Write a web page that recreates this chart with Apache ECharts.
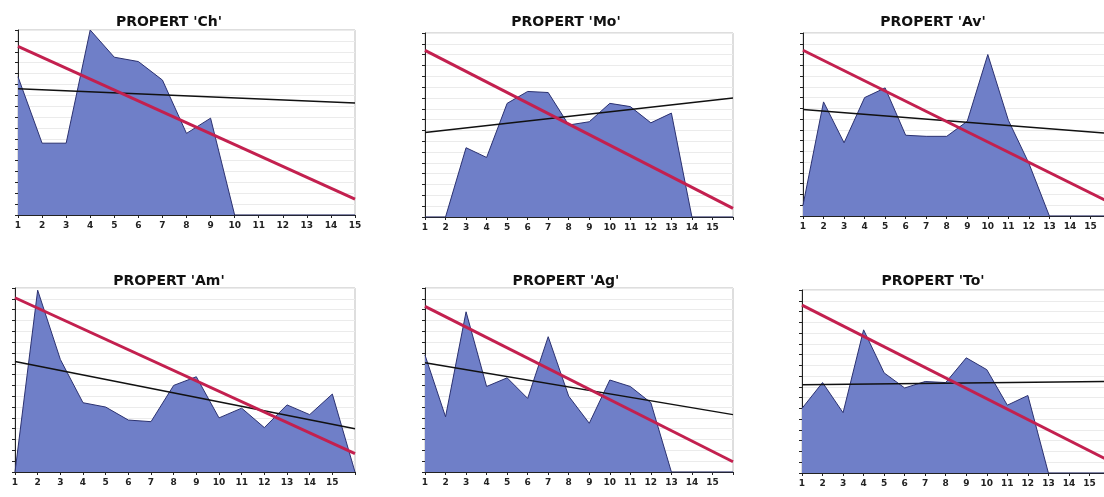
<!DOCTYPE html>
<html>
<head>
<meta charset="utf-8">
<script src="https://cdn.jsdelivr.net/npm/echarts@6/dist/echarts.min.js"></script>
<style>
  html, body { margin: 0; padding: 0; background: #fff; }
  #main { width: 1104px; height: 497px; }
</style>
</head>
<body>
<div id="main"></div>
<script>
// category labels (the 16th slot has no label)
var cats15 = ['1','2','3','4','5','6','7','8','9','10','11','12','13','14','15'];
var cats16 = ['1','2','3','4','5','6','7','8','9','10','11','12','13','14','15',''];

var titles = ["PROPERT 'Ch'", "PROPERT 'Mo'", "PROPERT 'Av'", "PROPERT 'Am'", "PROPERT 'Ag'", "PROPERT 'To'"];

// area values (arbitrary units, 0..17)
var ch = [12.7, 6.6, 6.6, 17.0, 14.5, 14.1, 12.4, 7.5, 8.9, 0, 0, 0, 0, 0, 0];
var mo = [0, 0, 6.4, 5.5, 10.5, 11.6, 11.5, 8.5, 8.8, 10.5, 10.2, 8.7, 9.6, 0, 0, 0];
var av = [1.0, 10.6, 6.8, 11.0, 11.9, 7.5, 7.4, 7.4, 8.8, 15.0, 8.9, 4.9, 0, 0, 0, 0];
var am = [0, 16.8, 10.4, 6.4, 6.0, 4.8, 4.65, 8.0, 8.8, 5.0, 5.9, 4.1, 6.2, 5.3, 7.2, 0];
var ag = [10.8, 5.1, 14.8, 7.9, 8.7, 6.8, 12.5, 7.0, 4.5, 8.5, 7.9, 6.4, 0, 0, 0, 0];
var to = [6.0, 8.4, 5.6, 13.3, 9.3, 7.9, 8.5, 8.4, 10.7, 9.6, 6.3, 7.2, 0, 0, 0, 0];

// trend lines: value at first and last category
var redStart = [15.5, 15.4, 15.4, 16.1, 15.3, 15.6];
var redEnd   = [1.45, 0.8, 1.2, 1.7, 0.95, 1.1];
var blkStart = [11.6, 7.8, 9.9, 10.2, 10.1, 8.2];
var blkEnd   = [10.3, 11.0, 7.65, 4.0, 5.3, 8.5];

var areas = [ch, mo, av, am, ag, to];
var catSets = [cats15, cats16, cats16, cats16, cats16, cats16];

// plot boxes in pixels (right column runs past the window edge)
var grids = [
  {left: 18, top: 30, width: 337, height: 185},
  {left: 425, top: 33, width: 308, height: 184},
  {left: 803, top: 33, width: 308, height: 183},
  {left: 15, top: 288, width: 340, height: 184},
  {left: 425, top: 288, width: 308, height: 184},
  {left: 802, top: 290, width: 308, height: 183}
];
var titleX = [164, 561, 928, 164, 561, 928];
var titleY = [10, 10, 10, 269, 269, 269];

var option = {
  animation: false,
  title: [],
  grid: [],
  xAxis: [],
  yAxis: [],
  series: []
};

for (var i = 0; i < 6; i++) {
  var g = grids[i];
  option.grid.push({
    left: g.left, top: g.top, width: g.width, height: g.height,
    containLabel: false, outerBoundsMode: 'none',
    show: true, borderColor: '#bdbdbd', borderWidth: 1, backgroundColor: '#fff'
  });
  option.title.push({
    text: titles[i], left: titleX[i], top: titleY[i], textAlign: 'center',
    textStyle: {fontFamily: 'DejaVu Sans', fontSize: 14, fontWeight: 'bold', color: '#111'}
  });
  option.xAxis.push({
    type: 'category', gridIndex: i, data: catSets[i], boundaryGap: false,
    axisLine: {lineStyle: {color: '#222', width: 1}},
    axisTick: {show: true, length: 3, lineStyle: {color: '#222'}},
    axisLabel: {interval: 0, margin: 6, fontFamily: 'DejaVu Sans', fontSize: 9, fontWeight: 'bold', color: '#222'},
    splitLine: {show: false}
  });
  option.yAxis.push({
    type: 'value', gridIndex: i, min: 0, max: 17, interval: 1,
    axisLine: {show: true, lineStyle: {color: '#222', width: 1}},
    axisTick: {show: true, length: 3, lineStyle: {color: '#222'}},
    axisLabel: {show: false},
    splitLine: {lineStyle: {color: '#ebebeb', width: 1}}
  });
  var n = catSets[i].length;
  option.series.push({
    type: 'line', xAxisIndex: i, yAxisIndex: i, data: areas[i],
    symbol: 'none', z: 2,
    lineStyle: {color: '#2b3170', width: 1},
    areaStyle: {color: '#6f7fc8', opacity: 1}
  });
  option.series.push({
    type: 'line', xAxisIndex: i, yAxisIndex: i,
    data: [[0, blkStart[i]], [n - 1, blkEnd[i]]],
    symbol: 'none', z: 3,
    lineStyle: {color: '#111', width: 1.5}
  });
  option.series.push({
    type: 'line', xAxisIndex: i, yAxisIndex: i,
    data: [[0, redStart[i]], [n - 1, redEnd[i]]],
    symbol: 'none', z: 4,
    lineStyle: {color: '#c3204f', width: 3}
  });
}

var myChart = echarts.init(document.getElementById('main'));
myChart.setOption(option);
</script>
</body>
</html>
